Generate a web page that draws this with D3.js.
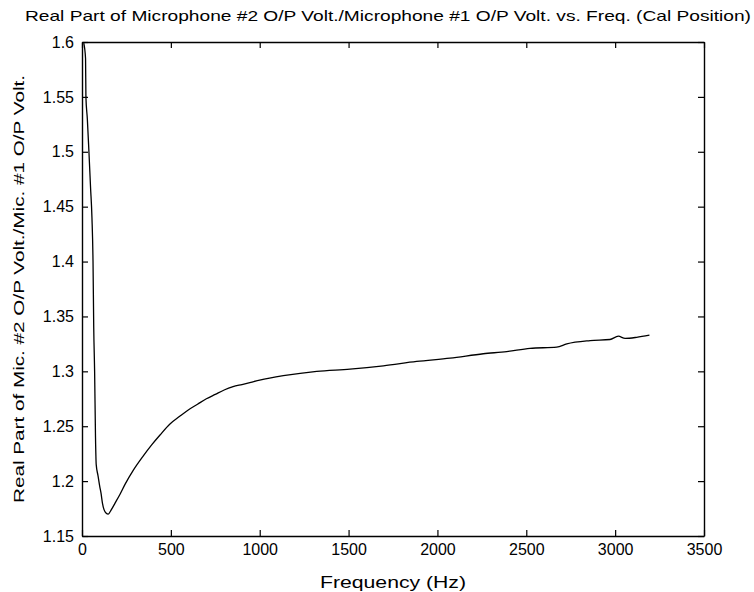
<!DOCTYPE html>
<html>
<head>
<meta charset="utf-8">
<script src="https://d3js.org/d3.v7.min.js"></script>
<style>
  body { margin: 0; background: #fff; }
  text { font-family: "Liberation Sans", Arial, sans-serif; fill: #000; }
</style>
</head>
<body>
<div id="chart"></div>
<script>
var width = 754, height = 592;
var margin = {top: 42, right: 50, bottom: 56, left: 82};

// frequency (Hz) and real part of the voltage ratio
var freq = [10, 20, 22, 30, 39, 48, 56, 62, 66, 71, 76, 80, 90, 100, 107, 115, 124, 135, 148,
  165, 186, 214, 242, 289, 345, 392, 439, 495, 550, 600, 650, 700, 750, 800, 850, 900, 950, 1000,
  1133, 1321, 1508, 1696, 1883, 2071, 2258, 2390, 2521, 2671, 2728, 2859, 2971, 3018, 3056, 3121, 3193];
var ratio = [1.599, 1.585, 1.55, 1.53, 1.50, 1.468, 1.44, 1.40, 1.34, 1.30, 1.24, 1.215, 1.205, 1.195, 1.189, 1.180, 1.174, 1.171, 1.170,
  1.174, 1.180, 1.188, 1.197, 1.210, 1.223, 1.233, 1.242, 1.252, 1.259, 1.265, 1.270, 1.275, 1.279, 1.283, 1.286, 1.288, 1.290, 1.292,
  1.296, 1.300, 1.302, 1.305, 1.309, 1.312, 1.316, 1.318, 1.321, 1.322, 1.325, 1.328, 1.329, 1.332, 1.330, 1.331, 1.333];

var xTicks = [0, 500, 1000, 1500, 2000, 2500, 3000, 3500];
var yTicks = [1.15, 1.2, 1.25, 1.3, 1.35, 1.4, 1.45, 1.5, 1.55, 1.6];

var titleText = "Real Part of Microphone #2 O/P Volt./Microphone #1 O/P Volt. vs. Freq. (Cal Position)";
var xLabel = "Frequency (Hz)";
var yLabel = "Real Part of Mic. #2 O/P Volt./Mic. #1 O/P Volt.";

var svg = d3.select("#chart")
  .append("svg")
  .attr("width", width)
  .attr("height", height);

var x = d3.scaleLinear().domain([0, 3500]).range([margin.left, width - margin.right]);
var y = d3.scaleLinear().domain([1.15, 1.6]).range([height - margin.bottom, margin.top]);

var tickLen = 6;
var fmtY = function(d) { return String(+d.toFixed(2)); };
var fmtX = function(d) { return String(d); };

// bottom axis with labels, inward ticks
var gx = svg.append("g")
  .attr("transform", "translate(0," + y.range()[0] + ")")
  .call(d3.axisBottom(x).tickValues(xTicks).tickSizeInner(-tickLen).tickSizeOuter(0).tickPadding(14).tickFormat(fmtX));
// top axis, ticks only
var gxt = svg.append("g")
  .attr("transform", "translate(0," + y.range()[1] + ")")
  .call(d3.axisTop(x).tickValues(xTicks).tickSizeInner(-tickLen).tickSizeOuter(0).tickFormat(""));
// left axis with labels
var gy = svg.append("g")
  .attr("transform", "translate(" + x.range()[0] + ",0)")
  .call(d3.axisLeft(y).tickValues(yTicks).tickSizeInner(-tickLen).tickSizeOuter(0).tickPadding(8).tickFormat(fmtY));
// right axis, ticks only
var gyr = svg.append("g")
  .attr("transform", "translate(" + x.range()[1] + ",0)")
  .call(d3.axisRight(y).tickValues(yTicks).tickSizeInner(-tickLen).tickSizeOuter(0).tickFormat(""));

[gx, gxt, gy, gyr].forEach(function(g) {
  g.select(".domain").attr("stroke", "#000").attr("stroke-width", 1.4);
  g.selectAll(".tick line").attr("stroke", "#000").attr("stroke-width", 1.2);
  g.selectAll("text").style("font-family", "'Liberation Sans', Arial, sans-serif").attr("font-size", 16).attr("fill", "#000");
});
gx.selectAll("text").attr("dy", "0.3em");

// data line
var pts = freq.map(function(f, i) { return [f, ratio[i]]; });
svg.append("path")
  .datum(pts)
  .attr("fill", "none")
  .attr("stroke", "#000")
  .attr("stroke-width", 1.3)
  .attr("d", d3.line().curve(d3.curveMonotoneX).x(function(d) { return x(d[0]); }).y(function(d) { return y(d[1]); }));

// title and labels
svg.append("text")
  .attr("x", 388).attr("y", 21)
  .attr("text-anchor", "middle")
  .attr("font-size", 15)
  .attr("textLength", 726)
  .attr("lengthAdjust", "spacingAndGlyphs")
  .text(titleText);

svg.append("text")
  .attr("x", (x.range()[0] + x.range()[1]) / 2).attr("y", 588)
  .attr("text-anchor", "middle")
  .attr("font-size", 16)
  .attr("textLength", 146)
  .attr("lengthAdjust", "spacingAndGlyphs")
  .text(xLabel);

svg.append("text")
  .attr("transform", "translate(24," + ((y.range()[0] + y.range()[1]) / 2) + ") rotate(-90)")
  .attr("text-anchor", "middle")
  .attr("font-size", 15)
  .attr("textLength", 428)
  .attr("lengthAdjust", "spacingAndGlyphs")
  .text(yLabel);
</script>
</body>
</html>
